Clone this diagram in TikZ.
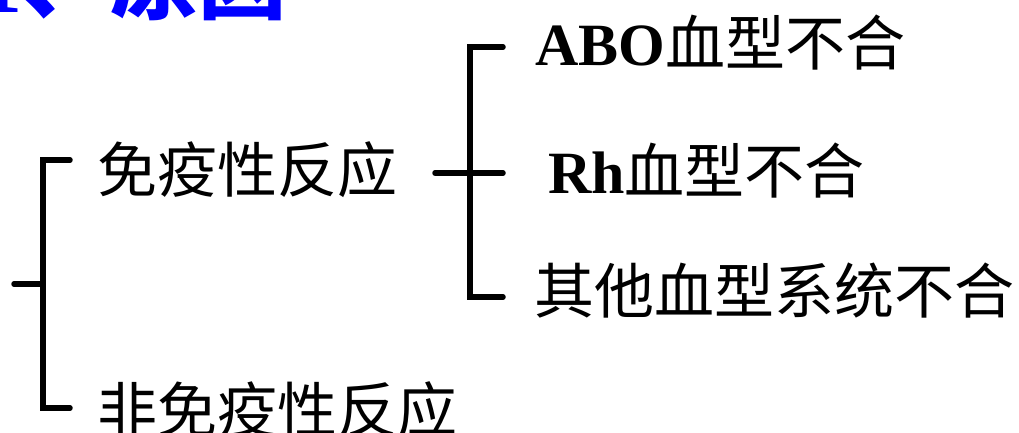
\documentclass[tikz,border=0pt]{standalone}
\usepackage{fontspec}
\setmainfont{Liberation Serif}
\newfontfamily\cjk{Noto Sans CJK SC}
\begin{document}
\begin{tikzpicture}[x=1pt,y=-1pt,
  br/.style={line width=5.5pt,line cap=round,line join=miter},
  lbl/.style={anchor=west,inner sep=0pt,font=\fontsize{60}{62}\selectfont},
  ttl/.style={anchor=base west,inner sep=0pt,text=blue,font=\fontsize{88}{90}\selectfont\bfseries}]
\useasboundingbox (0,0) rectangle (1019,432);
% title (cut off at the top)
\node[ttl] (title) at (-22,12) {1{\cjk 、原因}};
% labels
\node[lbl] (imm) at (97,170) {\cjk 免疫性反应};
\node[lbl] (nonimm) at (97,410) {\cjk 非免疫性反应};
\node[lbl] (abo) at (535,43) {\bfseries ABO{\cjk\mdseries 血型不合}};
\node[lbl] (rh) at (548,171) {\bfseries Rh{\cjk\mdseries 血型不合}};
\node[lbl] (oth) at (534,291) {\cjk 其他血型系统不合};
% left bracket
\coordinate (lt) at (70,160);
\coordinate (lb) at (70,408);
\coordinate (lm) at (14,284);
\draw[br] (lt) -- (43,160) -- (43,408) -- (lb);
\draw[br] (lm) -- (43,284);
% right bracket
\coordinate (rt) at (503,47);
\coordinate (rb) at (503,297);
\coordinate (rm) at (503,173);
\coordinate (rl) at (435,173);
\draw[br] (rt) -- (470,47) -- (470,297) -- (rb);
\draw[br] (rl) -- (rm);
\end{tikzpicture}
\end{document}
